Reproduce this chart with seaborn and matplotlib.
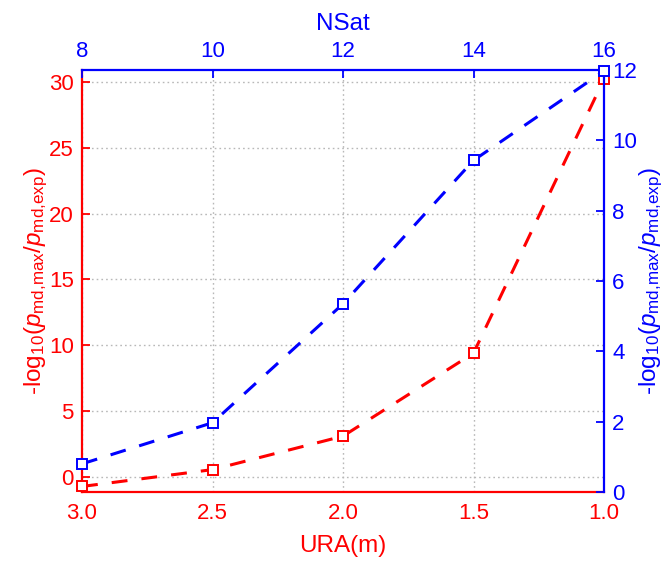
import matplotlib
matplotlib.use("Agg")
import matplotlib.pyplot as plt
import seaborn as sns
import numpy as np

# ---- data ----
ura = [3.0, 2.5, 2.0, 1.5, 1.0]
red_vals = [-0.72, 0.56, 3.1, 9.4, 30.2]
nsat = [8, 10, 12, 14, 16]
blue_vals = [0.80, 1.97, 5.35, 9.43, 11.97]

ura_ticks = [3.0, 2.5, 2.0, 1.5, 1.0]
ura_ticklabels = ["3.0", "2.5", "2.0", "1.5", "1.0"]
left_ticks = [0, 5, 10, 15, 20, 25, 30]
right_ticks = [0, 2, 4, 6, 8, 10, 12]
nsat_ticks = [8, 10, 12, 14, 16]

RED = "#ff0000"
BLUE = "#0000ff"

sns.set_style("white")
plt.rcParams["font.family"] = ["Liberation Sans", "DejaVu Sans"]
plt.rcParams["mathtext.fontset"] = "custom"
plt.rcParams["mathtext.rm"] = "Liberation Sans"
plt.rcParams["mathtext.it"] = "Liberation Sans:italic"
plt.rcParams["mathtext.bf"] = "Liberation Sans:bold"

fig = plt.figure(figsize=(6.71, 5.65), dpi=100)
ax = fig.add_axes([82/671, 1-492/565, (604-82)/671, (492-70)/565])
ax2 = ax.twinx()
ax3 = ax2.twiny()

FS = 16
LFS = 17.5
dash = (0, (5.2, 4.6))

# red series (bottom x, left y)
sns.lineplot(x=ura, y=red_vals, ax=ax, color=RED, linewidth=2.2, linestyle=dash,
             marker="s", markersize=7, markerfacecolor="white", markeredgecolor=RED,
             markeredgewidth=1.4, clip_on=False, sort=False, zorder=3)
# blue series (top x, right y)
sns.lineplot(x=nsat, y=blue_vals, ax=ax3, color=BLUE, linewidth=2.2, linestyle=dash,
             marker="s", markersize=7, markerfacecolor="white", markeredgecolor=BLUE,
             markeredgewidth=1.4, clip_on=False, sort=False, zorder=3)

ax.set_xlim(3.0, 1.0)
ax.set_ylim(-1.14, 30.9)
ax2.set_ylim(0, 12)
ax3.set_xlim(8, 16)

ax.set_xticks(ura_ticks)
ax.set_xticklabels(ura_ticklabels)
ax.set_yticks(left_ticks)
ax2.set_yticks(right_ticks)
ax3.set_xticks(nsat_ticks)

ax.grid(True, linestyle=(0, (1.2, 2.2)), color="#b8b8b8", linewidth=1.0)
ax.set_axisbelow(True)

ax.tick_params(axis="x", colors=RED, labelsize=FS, direction="in", length=6, width=1.3,
               pad=8, top=False)
ax.tick_params(axis="y", colors=RED, labelsize=FS, direction="in", length=6, width=1.3,
               pad=6, right=False)
ax2.tick_params(axis="y", colors=BLUE, labelsize=FS, direction="in", length=6, width=1.3,
                pad=6, left=False)
ax3.tick_params(axis="x", colors=BLUE, labelsize=FS, direction="in", length=6, width=1.3,
                pad=6, bottom=False)

for a in (ax, ax2, ax3):
    for s in a.spines.values():
        s.set_visible(False)
        s.set_linewidth(1.6)
ax.spines["left"].set_visible(True)
ax.spines["left"].set_color(RED)
ax.spines["bottom"].set_visible(True)
ax.spines["bottom"].set_color(RED)
ax2.spines["right"].set_visible(True)
ax2.spines["right"].set_color(BLUE)
ax3.spines["top"].set_visible(True)
ax3.spines["top"].set_color(BLUE)

ylab = r"-log$_{10}$($p_{\mathrm{md{,}max}}$/$p_{\mathrm{md{,}exp}}$)"
ax.set_xlabel("URA(m)", color=RED, fontsize=LFS, labelpad=8)
ax.set_ylabel(ylab, color=RED, fontsize=LFS, labelpad=-1)
ax2.set_ylabel(ylab, color=BLUE, fontsize=LFS, labelpad=0, rotation=90)
ax3.set_xlabel("NSat", color=BLUE, fontsize=LFS, labelpad=8)

fig.savefig("out.png", dpi=100)
